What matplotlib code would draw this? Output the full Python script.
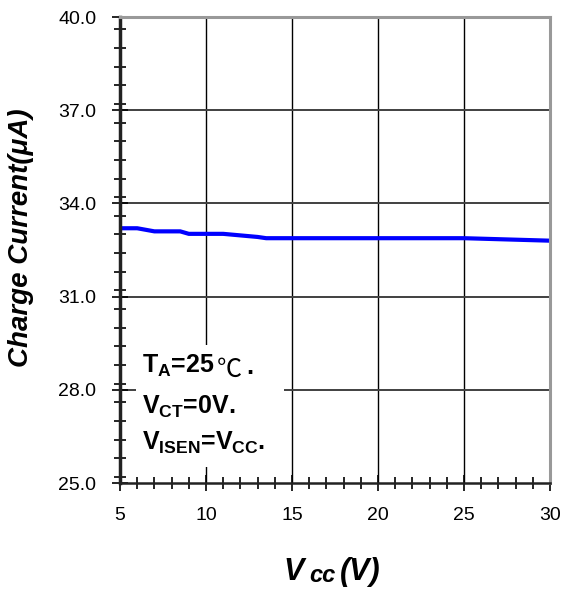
import matplotlib
matplotlib.use("Agg")
import matplotlib.pyplot as plt
from matplotlib.patches import Rectangle
from matplotlib.ticker import MultipleLocator, FormatStrFormatter

plt.rcParams['font.family'] = ['Liberation Sans', 'DejaVu Sans']
plt.rcParams['mathtext.fontset'] = 'custom'
plt.rcParams['mathtext.rm'] = 'Liberation Sans'
plt.rcParams['mathtext.bf'] = 'Liberation Sans:bold'
plt.rcParams['mathtext.it'] = 'Liberation Sans:italic'

# Data
vcc = [5, 6, 7, 8, 8.5, 9, 10, 11, 12, 13, 13.5, 15, 20, 25, 30]
current = [33.2, 33.2, 33.1, 33.1, 33.1, 33.02, 33.02, 33.02, 32.97, 32.92, 32.88, 32.88, 32.88, 32.88, 32.8]
x_ticks = [5, 10, 15, 20, 25, 30]
y_ticks = [25.0, 28.0, 31.0, 34.0, 37.0, 40.0]

W, H = 563, 592
fig = plt.figure(figsize=(W / 100, H / 100), dpi=100)
ax = fig.add_axes([120 / W, 1 - 483 / H, 430 / W, 466 / H])

ax.set_xlim(5, 30)
ax.set_ylim(25, 40)
ax.set_xticks(x_ticks)
ax.set_yticks(y_ticks)
ax.xaxis.set_minor_locator(MultipleLocator(1))
ax.yaxis.set_minor_locator(MultipleLocator(0.6))
ax.yaxis.set_major_formatter(FormatStrFormatter('%.1f'))

for xv in x_ticks[1:-1]:
    ax.axvline(xv, color='black', lw=1.0, zorder=1)
for yv in y_ticks[1:-1]:
    ax.axhline(yv, color='#404040', lw=1.4, zorder=1)

# white box behind annotation
ax.add_patch(Rectangle((5.93, 25.52), 14.53 - 5.93, 29.44 - 25.52,
                       facecolor='white', edgecolor='none', zorder=2))

ax.plot(vcc, current, color='#0000ff', lw=3, zorder=3, solid_capstyle='butt')

ax.tick_params(axis='both', which='both', direction='inout', colors='black',
               labelsize=14, width=1.2)
ax.tick_params(axis='y', which='major', length=12, pad=11)
ax.tick_params(axis='y', which='minor', length=9)
ax.tick_params(axis='x', which='major', length=12, pad=11.5)
ax.tick_params(axis='x', which='minor', length=9)

ax.spines['left'].set_color('#222222')
ax.spines['left'].set_linewidth(2.5)
ax.spines['bottom'].set_color('#222222')
ax.spines['bottom'].set_linewidth(1.8)
ax.spines['top'].set_color('#999999')
ax.spines['top'].set_linewidth(2.2)
ax.spines['right'].set_color('#999999')
ax.spines['right'].set_linewidth(2.2)
for s in ax.spines.values():
    s.set_zorder(5)

def fx(px):
    return px / W

def fy(py):
    return 1 - py / H

# y label
fig.text(fx(21), fy(238), 'Charge Current(μA)', rotation=90, ha='center', va='center',
         fontsize=20, fontweight='bold', fontstyle='italic')

# x label pieces
fig.text(fx(283), fy(580), 'V', ha='left', va='baseline', fontsize=22,
         fontweight='bold', fontstyle='italic')
fig.text(fx(309), fy(582), 'cc', ha='left', va='baseline', fontsize=17,
         fontweight='bold', fontstyle='italic')
fig.text(fx(340), fy(580), '(V)', ha='left', va='baseline', fontsize=22,
         fontweight='bold', fontstyle='italic')

# annotation text
bsz = 18
t1 = fig.text(fx(142), fy(373), r'T$_{\mathbf{A}}$=25', ha='left', va='baseline',
              fontsize=bsz, fontweight='bold', zorder=6)
fig.text(fx(142), fy(414), r'V$_{\mathbf{CT}}$=0V.', ha='left', va='baseline',
         fontsize=bsz, fontweight='bold', zorder=6)
fig.text(fx(142), fy(450), r'V$_{\mathbf{ISEN}}$=V$_{\mathbf{CC}}$.', ha='left', va='baseline',
         fontsize=bsz, fontweight='bold', zorder=6)

fig.canvas.draw()
r = fig.canvas.get_renderer()
e1 = t1.get_window_extent(r)
t2 = fig.text((e1.x1 + 2) / W, fy(377), '℃', ha='left', va='baseline', fontsize=bsz,
              family=['Noto Sans CJK SC', 'DejaVu Sans'], zorder=6)
e2 = t2.get_window_extent(r)
fig.text((e2.x1 + 5) / W, fy(374), '.', ha='left', va='baseline', fontsize=bsz,
         fontweight='bold', zorder=6)

fig.savefig('out.png', dpi=100)
